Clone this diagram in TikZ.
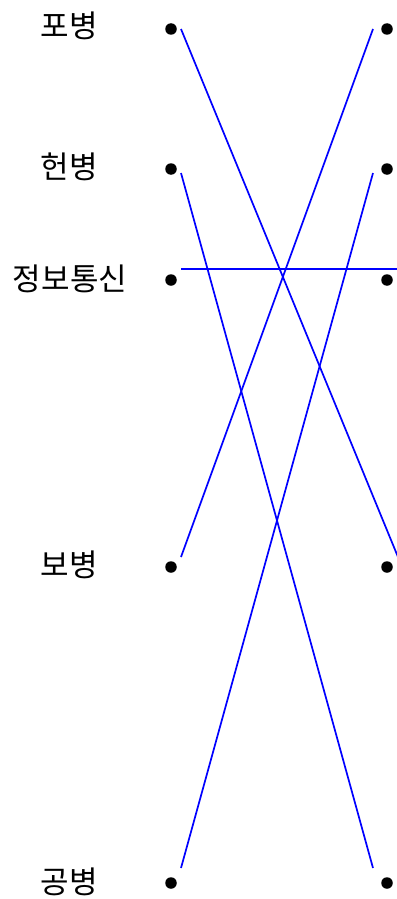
\documentclass[tikz,border=0pt]{standalone}
\usepackage{fontspec}
\newfontfamily\kr{Noto Sans CJK KR}
\begin{document}
\begin{tikzpicture}[x=1pt,y=-1pt,
  lbl/.style={font=\kr\fontsize{31}{36}\selectfont, anchor=center, inner sep=0pt},
  dotst/.style={circle, fill=black, inner sep=0pt, minimum size=11.5pt},
  link/.style={blue, line width=1.7pt}]
\useasboundingbox (0,0) rectangle (396,899);
% labels
\node[lbl] (l1) at (69,26) {포병};
\node[lbl] (l2) at (69,167) {헌병};
\node[lbl] (l3) at (70,279) {정보통신};
\node[lbl] (l4) at (69,565) {보병};
\node[lbl] (l5) at (69,882) {공병};
% dots
\node[dotst] (a1) at (171,29) {};
\node[dotst] (a2) at (171,169) {};
\node[dotst] (a3) at (171,280) {};
\node[dotst] (a4) at (171,567) {};
\node[dotst] (a5) at (171,883) {};
\node[dotst] (b1) at (387,29) {};
\node[dotst] (b2) at (387,169) {};
\node[dotst] (b3) at (387,280) {};
\node[dotst] (b4) at (387,567) {};
\node[dotst] (b5) at (387,883) {};
% line ends
\coordinate (s1) at (181,29);
\coordinate (s2) at (181,173);
\coordinate (s3) at (181,269);
\coordinate (s4) at (181,557);
\coordinate (s5) at (181,868);
\coordinate (e1) at (373,29);
\coordinate (e2) at (373,173);
\coordinate (e3) at (400,269);
\coordinate (e4) at (398,557);
\coordinate (e5) at (373,868);
\draw[link] (s1) -- (e4);
\draw[link] (s2) -- (e5);
\draw[link] (s3) -- (e3);
\draw[link] (s4) -- (e1);
\draw[link] (s5) -- (e2);
\end{tikzpicture}
\end{document}
